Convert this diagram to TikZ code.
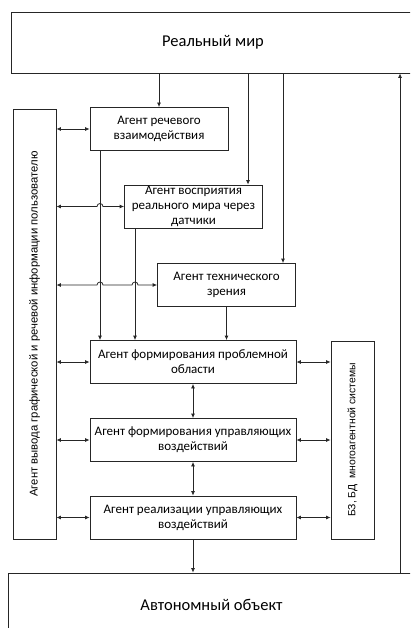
\documentclass[tikz,border=0pt]{standalone}
\usepackage{fontspec}
\setmainfont{Carlito}
\newfontfamily\sidefont{Liberation Sans}
\usetikzlibrary{positioning,arrows.meta,calc}

\begin{document}
\begin{tikzpicture}[x=1pt, y=-1pt, every node/.style={font=\fontsize{13}{15}\selectfont}]
  \tikzstyle{agentbox}=[draw=black!85, line width=0.8pt, align=center, inner xsep=1pt, inner ysep=0pt, minimum height=43pt]
  \tikzstyle{sidebox}=[draw=black!85, line width=0.8pt, rotate=90, minimum height=43pt, inner sep=1pt, font=\sidefont\fontsize{11.3}{13}\selectfont]
  \tikzstyle{bigbox}=[draw=black!85, line width=0.8pt, font=\fontsize{16.5}{19}\selectfont]
  \tikzstyle{conn}=[draw=black!85, line width=0.8pt, -{Latex[length=4.5pt,width=4pt]}]
  \tikzstyle{both}=[draw=black!85, line width=0.8pt, {Latex[length=4.5pt,width=4pt]}-{Latex[length=4.5pt,width=4pt]}]
  \useasboundingbox (0,0) rectangle (410,628);
  \clip (0,0) rectangle (410,628);
  % outer world and object
  \node[bigbox, minimum width=404pt, minimum height=61pt] (world) at (213,42.5) {Реальный мир};
  \node[bigbox, minimum width=407pt, minimum height=64pt] (obj) at (211.5,605) {Автономный объект};
  % side blocks
  \node[sidebox, minimum width=430pt] (outL) at (34.5,324) {Агент вывода графической и речевой информации пользователю};
  \node[sidebox, minimum width=198pt, font=\sidefont\fontsize{10.4}{12}\selectfont] (kb) at (352.5,440) {БЗ, БД\ \ многоагентной системы};
  % agents
  \node[agentbox, minimum width=138pt] (a1) at (159,129) {Агент речевого\\взаимодействия};
  \node[agentbox, minimum width=138pt] (a2) at (193.5,206.5) {Агент восприятия\\реального мира через\\датчики};
  \node[agentbox, minimum width=138pt] (a3) at (226.5,285) {Агент технического\\зрения};
  \node[agentbox, minimum width=206pt] (a4) at (193,362) {Агент формирования проблемной\\области};
  \node[agentbox, minimum width=206pt] (a5) at (193,440) {Агент формирования управляющих\\воздействий};
  \node[agentbox, minimum width=206pt] (a6) at (193,517.5) {Агент реализации управляющих\\воздействий};
  \coordinate (v1) at (100,0);
  \coordinate (v2) at (135,0);
  \coordinate (t2) at (248,0);
  \coordinate (t3) at (283,0);
  \coordinate (fb) at (400,0);
  % from the real world
  \draw[conn] (world.south -| a1.north) -- (a1.north);
  \draw[conn] (world.south -| t2) -- (a2.north -| t2);
  \draw[conn] (world.south -| t3) -- (a3.north -| t3);
  % into problem area agent
  \draw[conn] (a1.south -| v1) -- (a4.north -| v1);
  \draw[conn] (a2.south -| v2) -- (a4.north -| v2);
  \draw[conn] (a3.south) -- (a4.north -| a3.south);
  % user output links, with hops
  \draw[both] (a1.west -| outL.south) -- (a1.west);
  \draw[both] (a2.west -| outL.south) -- ([xshift=-3pt]a2.west -| v1) arc[start angle=180, end angle=0, radius=3pt] -- (a2.west);
  \draw[both] (a3.west -| outL.south) -- ([xshift=-3pt]a3.west -| v1) arc[start angle=180, end angle=0, radius=3pt]
    -- ([xshift=-3pt]a3.west -| v2) arc[start angle=180, end angle=0, radius=3pt] -- (a3.west);
  \draw[both] (a4.west -| outL.south) -- (a4.west);
  \draw[both] (a5.west -| outL.south) -- (a5.west);
  \draw[both] (a6.west -| outL.south) -- (a6.west);
  % knowledge base links
  \draw[both] (a4.east) -- (a4.east -| kb.north);
  \draw[both] (a5.east) -- (a5.east -| kb.north);
  \draw[both] (a6.east) -- (a6.east -| kb.north);
  % control chain
  \draw[both] (a4.south) -- (a5.north);
  \draw[both] (a5.south) -- (a6.north);
  \draw[conn] (a6.south) -- (obj.north -| a6.south);
  \draw[conn] (obj.north -| fb) -- (world.south -| fb);
\end{tikzpicture}
\end{document}
